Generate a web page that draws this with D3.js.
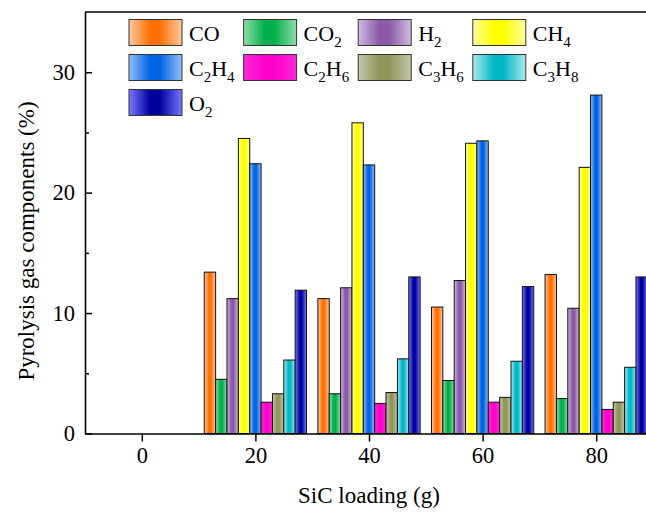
<!DOCTYPE html>
<html>
<head>
<meta charset="utf-8">
<script src="https://cdn.jsdelivr.net/npm/d3@7"></script>
<style>
  body { margin: 0; background: #fff; }
  svg text { font-family: "Times New Roman", "Liberation Serif", serif; fill: #000; }
</style>
</head>
<body>
<svg id="chart" width="646" height="516"></svg>
<script>
// SiC loading (g)
var loadings = [20, 40, 60, 80];
var xTicks = [0, 20, 40, 60, 80];
var yTicks = [0, 10, 20, 30];
var yMinor = [5, 15, 25];

// gas labels: [normal text, subscript] pieces
var gasNames = [
  [['CO', '']],
  [['CO', ''], ['', '2']],
  [['H', ''], ['', '2']],
  [['CH', ''], ['', '4']],
  [['C', ''], ['', '2'], ['H', ''], ['', '4']],
  [['C', ''], ['', '2'], ['H', ''], ['', '6']],
  [['C', ''], ['', '3'], ['H', ''], ['', '6']],
  [['C', ''], ['', '3'], ['H', ''], ['', '8']],
  [['O', ''], ['', '2']]
];

// values (%) per gas, one per loading
var CO   = [13.4, 11.2, 10.5, 13.2];
var CO2  = [4.5, 3.3, 4.4, 2.9];
var H2   = [11.2, 12.1, 12.7, 10.4];
var CH4  = [24.5, 25.8, 24.1, 22.1];
var C2H4 = [22.4, 22.3, 24.3, 28.1];
var C2H6 = [2.6, 2.5, 2.6, 2.0];
var C3H6 = [3.3, 3.4, 3.0, 2.6];
var C3H8 = [6.1, 6.2, 6.0, 5.5];
var O2   = [11.9, 13.0, 12.2, 13.0];

var series = [CO, CO2, H2, CH4, C2H4, C2H6, C3H6, C3H8, O2];

// [edge colour, centre colour]
var colors = [
  ['#ffc9a3', '#ff7000'],
  ['#94dbab', '#00b04c'],
  ['#cfbbdf', '#8a59a8'],
  ['#ffff9e', '#ffff00'],
  ['#93bdf2', '#0064e6'],
  ['#ff2ad6', '#ff00cc'],
  ['#c5c6a6', '#90955c'],
  ['#a8e9ec', '#00b8c8'],
  ['#7878ff', '#00009c']
];

function drawChart() {
  var svg = d3.select('#chart');
  var mLeft = 85, mTop = 12, mBottom = 433.5, mRight = 653;

  var x = d3.scaleLinear().domain([-10, 90]).range([mLeft, mRight]);
  var y = d3.scaleLinear().domain([0, 35]).range([mBottom, mTop]);
  var barW = 2; // in x units

  var defs = svg.append('defs');
  colors.forEach(function(c, i){
    var g = defs.append('linearGradient').attr('id', 'g' + i)
      .attr('x1', 0).attr('x2', 1).attr('y1', 0).attr('y2', 0);
    g.append('stop').attr('offset', '0%').attr('stop-color', c[0]);
    g.append('stop').attr('offset', '40%').attr('stop-color', c[1]);
    g.append('stop').attr('offset', '58%').attr('stop-color', c[1]);
    g.append('stop').attr('offset', '100%').attr('stop-color', c[0]);
  });

  // bars
  series.forEach(function(vals, i){
    svg.append('g').selectAll('rect').data(vals).enter()
      .append('rect')
      .attr('x', function(d, j){ return x(loadings[j] + (i - 4.5) * barW); })
      .attr('width', x(barW) - x(0))
      .attr('y', function(d){ return y(d); })
      .attr('height', function(d){ return y(0) - y(d); })
      .attr('fill', 'url(#g' + i + ')')
      .attr('stroke', '#111')
      .attr('stroke-width', 1);
  });

  // axes
  svg.append('g').attr('transform', 'translate(' + mLeft + ',0)')
    .call(d3.axisLeft(y).tickValues(yTicks).tickSizeInner(-7).tickSizeOuter(0).tickPadding(10));
  var yMin = svg.append('g').attr('transform', 'translate(' + mLeft + ',0)')
    .call(d3.axisLeft(y).tickValues(yMinor).tickSizeInner(-4).tickSizeOuter(0).tickFormat(''));
  yMin.select('.domain').remove();

  svg.append('g').attr('transform', 'translate(0,' + mBottom + ')')
    .call(d3.axisBottom(x).tickValues(xTicks).tickSizeInner(8).tickSizeOuter(0).tickPadding(6));

  svg.selectAll('.tick line').attr('stroke', '#000').attr('stroke-width', 1.5);
  svg.selectAll('.domain').attr('stroke', '#000').attr('stroke-width', 1.6);
  svg.selectAll('.tick text').style('font-family', '"Times New Roman", "Liberation Serif", serif')
    .style('font-size', '22.5px').attr('fill', '#000');

  // top frame line
  svg.append('line').attr('x1', mLeft).attr('x2', mRight).attr('y1', mTop).attr('y2', mTop)
    .attr('stroke', '#000').attr('stroke-width', 1.6);

  // axis titles
  svg.append('text').attr('x', 369).attr('y', 503).attr('text-anchor', 'middle')
    .style('font-size', '23px').text('SiC loading (g)');
  svg.append('text').attr('transform', 'translate(34,241) rotate(-90)').attr('text-anchor', 'middle')
    .style('font-size', '23px').text('Pyrolysis gas components (%)');

  // legend
  var legend = svg.append('g');
  gasNames.forEach(function(parts, i){
    var col = i % 4, row = Math.floor(i / 4);
    var lx = 129 + col * 114.6, ly = 19.5 + row * 35;
    legend.append('rect').attr('x', lx).attr('y', ly).attr('width', 53).attr('height', 26)
      .attr('fill', 'url(#g' + i + ')').attr('stroke', '#333').attr('stroke-width', 1);
    var t = legend.append('text').attr('x', lx + 60).attr('y', ly + 21).style('font-size', '22px');
    var sub = false;
    parts.forEach(function(p){
      if (p[0]) {
        t.append('tspan').attr('dy', sub ? -6 : 0).text(p[0]);
        sub = false;
      } else {
        t.append('tspan').attr('dy', 6).style('font-size', '15px').text(p[1]);
        sub = true;
      }
    });
  });
}

drawChart();
</script>
</body>
</html>
